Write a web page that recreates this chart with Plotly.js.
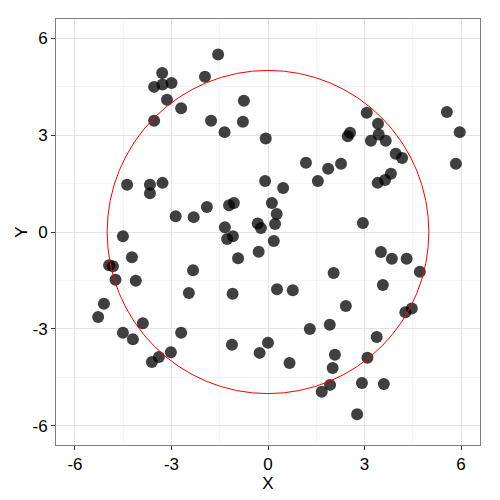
<!DOCTYPE html>
<html>
<head>
<meta charset="utf-8">
<script src="https://cdn.plot.ly/plotly-3.0.1.min.js"></script>
<style>html,body{margin:0;padding:0;background:#fff}#chart{width:500px;height:500px}</style>
</head>
<body>
<div id="chart"></div>
<script>
const xValues = [-1.55,-3.29,-3.54,-3.28,-3.00,-1.96,-3.14,-2.70,-0.75,-3.54,
  -1.77,-0.78,-1.35,-0.07,-4.38,-3.67,-3.67,-3.28,-0.09,-1.21,
  -1.06,0.12,-1.90,-2.87,-2.31,-0.32,-0.22,-1.34,-4.51,-1.27,
  -1.09,-0.29,-0.93,-4.23,-4.94,-4.82,-4.74,-4.11,-2.33,-2.46,
  -1.10,-5.10,-5.28,-3.89,-4.51,-4.20,-2.70,-1.12,0.00,-0.26,
  -3.02,-3.39,-3.61,5.56,5.96,5.84,3.07,3.42,3.44,3.20,
  3.66,2.48,2.55,3.97,4.17,1.18,1.87,2.27,1.55,3.82,
  3.64,3.41,0.47,0.27,0.22,2.95,0.18,3.51,3.85,4.31,
  4.72,2.04,3.57,0.28,0.77,2.42,4.27,4.47,1.92,1.30,
  3.38,2.08,2.01,0.67,3.09,1.93,1.67,2.92,3.60,2.77];
const yValues = [5.49,4.92,4.49,4.56,4.61,4.80,4.09,3.83,4.06,3.44,
  3.44,3.41,3.09,2.89,1.46,1.46,1.20,1.52,1.58,0.83,
  0.90,0.90,0.77,0.49,0.46,0.26,0.12,0.15,-0.13,-0.22,
  -0.13,-0.61,-0.81,-0.78,-1.03,-1.06,-1.48,-1.51,-1.18,-1.89,
  -1.91,-2.22,-2.63,-2.82,-3.12,-3.32,-3.12,-3.49,-3.43,-3.74,
  -3.72,-3.87,-4.02,3.71,3.09,2.11,3.69,3.35,3.02,2.82,
  2.82,2.96,3.07,2.42,2.29,2.14,1.96,2.11,1.58,1.80,
  1.61,1.52,1.36,0.56,0.25,0.28,-0.28,-0.62,-0.83,-0.83,
  -1.23,-1.27,-1.64,-1.77,-1.80,-2.29,-2.48,-2.37,-2.87,-3.00,
  -3.25,-3.80,-4.21,-4.05,-3.89,-4.73,-4.94,-4.67,-4.70,-5.64];
const circleRadius = 5;
const tickValues = [-6,-3,0,3,6];
const tickLabels = ['-6','-3','0','3','6'];
const axisRange = [-6.59, 6.59];

const font = {family: 'Liberation Sans, Arial, sans-serif', size: 17, color: '#000'};

function axis(titleText, standoff) {
  return {
    range: axisRange,
    tickmode: 'array',
    tickvals: tickValues,
    ticktext: tickLabels,
    ticks: 'outside',
    ticklen: 4,
    tickwidth: 1,
    tickcolor: '#333',
    tickfont: font,
    showgrid: true,
    gridcolor: '#e3e3e3',
    gridwidth: 1,
    minor: {dtick: 1.5, tick0: 0, showgrid: true, gridcolor: '#f4f4f4', gridwidth: 1, ticks: ''},
    zeroline: false,
    showline: true,
    mirror: true,
    linecolor: '#7f7f7f',
    linewidth: 1,
    title: {text: titleText, font: font, standoff: standoff}
  };
}

const layout = {
  width: 500, height: 500,
  margin: {l: 56, r: 20, t: 19, b: 55},
  paper_bgcolor: '#fff',
  plot_bgcolor: '#fff',
  showlegend: false,
  xaxis: axis('X', 0),
  yaxis: axis('Y', 0),
  shapes: [{
    type: 'circle', xref: 'x', yref: 'y',
    x0: -circleRadius, y0: -circleRadius, x1: circleRadius, y1: circleRadius,
    line: {color: '#ff0000', width: 1}
  }]
};

const trace = {
  type: 'scatter', mode: 'markers',
  x: xValues, y: yValues,
  marker: {size: 12, color: 'rgba(0,0,0,0.75)', line: {width: 0}},
  hoverinfo: 'none'
};

Plotly.newPlot('chart', [trace], layout, {staticPlot: true});
</script>
</body>
</html>
